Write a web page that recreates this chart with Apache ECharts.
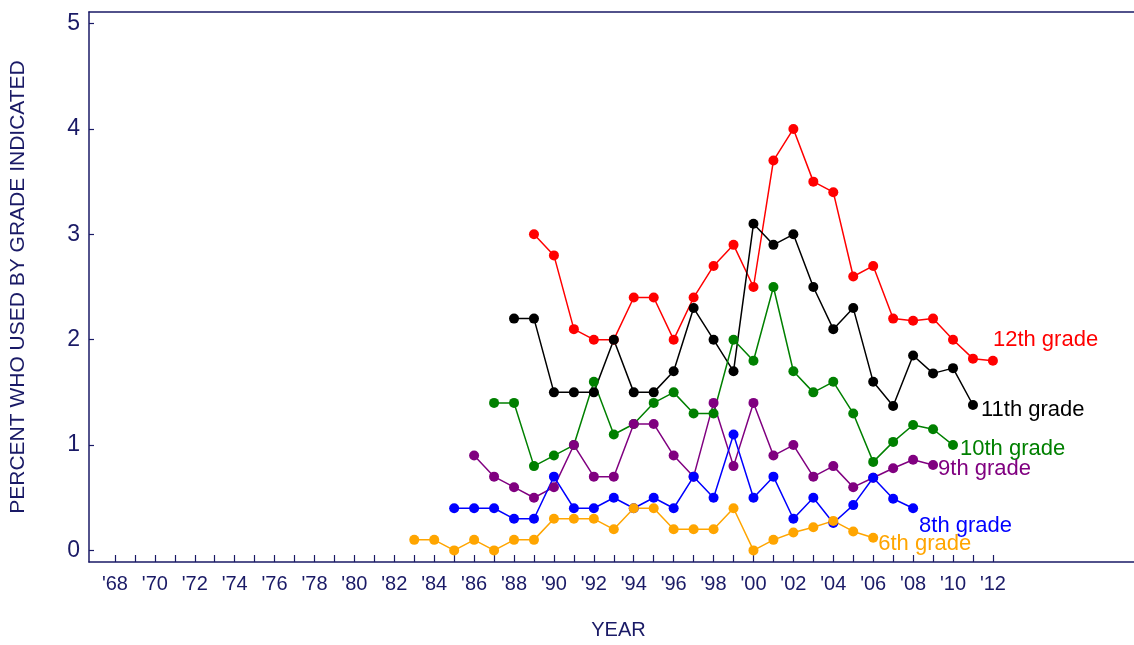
<!DOCTYPE html>
<html>
<head>
<meta charset="utf-8">
<script src="https://cdn.jsdelivr.net/npm/echarts@6/dist/echarts.min.js"></script>
<style>html,body{margin:0;padding:0;background:#fff}#c{width:1134px;height:645px}</style>
</head>
<body>
<div id="c"></div>
<script>
// ---- data ----
const years12 = [1989,1990,1991,1992,1993,1994,1995,1996,1997,1998,1999,2000,2001,2002,2003,2004,2005,2006,2007,2008,2009,2010,2011,2012];
const grade12 = [3.0,2.8,2.1,2.0,2.0,2.4,2.4,2.0,2.4,2.7,2.9,2.5,3.7,4.0,3.5,3.4,2.6,2.7,2.2,2.18,2.2,2.0,1.82,1.8];

const years11 = [1988,1989,1990,1991,1992,1993,1994,1995,1996,1997,1998,1999,2000,2001,2002,2003,2004,2005,2006,2007,2008,2009,2010,2011];
const grade11 = [2.2,2.2,1.5,1.5,1.5,2.0,1.5,1.5,1.7,2.3,2.0,1.7,3.1,2.9,3.0,2.5,2.1,2.3,1.6,1.37,1.85,1.68,1.73,1.38];

const years10 = [1987,1988,1989,1990,1991,1992,1993,1994,1995,1996,1997,1998,1999,2000,2001,2002,2003,2004,2005,2006,2007,2008,2009,2010];
const grade10 = [1.4,1.4,0.8,0.9,1.0,1.6,1.1,1.2,1.4,1.5,1.3,1.3,2.0,1.8,2.5,1.7,1.5,1.6,1.3,0.84,1.03,1.19,1.15,1.0];

const years9 = [1986,1987,1988,1989,1990,1991,1992,1993,1994,1995,1996,1997,1998,1999,2000,2001,2002,2003,2004,2005,2006,2007,2008,2009];
const grade9 = [0.9,0.7,0.6,0.5,0.6,1.0,0.7,0.7,1.2,1.2,0.9,0.7,1.4,0.8,1.4,0.9,1.0,0.7,0.8,0.6,0.69,0.78,0.86,0.81];

const years8 = [1985,1986,1987,1988,1989,1990,1991,1992,1993,1994,1995,1996,1997,1998,1999,2000,2001,2002,2003,2004,2005,2006,2007,2008];
const grade8 = [0.4,0.4,0.4,0.3,0.3,0.7,0.4,0.4,0.5,0.4,0.5,0.4,0.7,0.5,1.1,0.5,0.7,0.3,0.5,0.26,0.43,0.69,0.49,0.4];

const years6 = [1983,1984,1985,1986,1987,1988,1989,1990,1991,1992,1993,1994,1995,1996,1997,1998,1999,2000,2001,2002,2003,2004,2005,2006];
const grade6 = [0.1,0.1,0.0,0.1,0.0,0.1,0.1,0.3,0.3,0.3,0.2,0.4,0.4,0.2,0.2,0.2,0.4,0.0,0.1,0.17,0.22,0.28,0.18,0.12];

const xTickValues = [];
for (let y = 1968; y <= 2012; y++) xTickValues.push(y);
const xLabelValues = [1968,1970,1972,1974,1976,1978,1980,1982,1984,1986,1988,1990,1992,1994,1996,1998,2000,2002,2004,2006,2008,2010,2012];
const yTickValues = [0,1,2,3,4,5];

// ---- chart ----
const navy = '#1a1a66';
const FONT = '"Liberation Sans", Arial, sans-serif';

function mk(name, years, vals, color, offset) {
  return {
    type: 'line', name: name,
    data: years.map((y, i) => [y, vals[i]]),
    symbol: 'circle', symbolSize: 10,
    lineStyle: { color: color, width: 1.5 },
    itemStyle: { color: color },
    endLabel: {
      show: true, formatter: name, color: color,
      fontSize: 22, fontFamily: FONT, offset: offset, distance: 8
    },
    z: 3
  };
}

const chart = echarts.init(document.getElementById('c'), null, { renderer: 'canvas' });
chart.setOption({
  animation: false,
  backgroundColor: '#ffffff',
  grid: { left: 88, right: 0, top: 12, bottom: 80, containLabel: false },
  xAxis: [{
    type: 'value', min: 1966.7, max: 2019.07,
    name: 'YEAR', nameLocation: 'middle', nameGap: 58,
    nameTextStyle: { color: navy, fontSize: 20, fontFamily: FONT, padding: [0, 0, 0, 14] },
    axisLine: { show: true, onZero: false, lineStyle: { color: navy, width: 1.5 } },
    axisTick: { show: true, inside: true, length: 7, customValues: xTickValues, lineStyle: { color: navy, width: 1.2 } },
    axisLabel: {
      show: true, customValues: xLabelValues, color: navy, fontSize: 20, fontFamily: FONT, margin: 12,
      formatter: v => "'" + String(v).slice(2)
    },
    splitLine: { show: false }
  }, {
    type: 'value', position: 'top', min: 1966.7, max: 2019.07,
    axisLine: { show: true, onZero: false, lineStyle: { color: navy, width: 1.5 } },
    axisTick: { show: false }, axisLabel: { show: false }, splitLine: { show: false }
  }],
  yAxis: {
    type: 'value', min: -0.11, max: 5.11,
    name: 'PERCENT WHO USED BY GRADE INDICATED', nameLocation: 'middle', nameGap: 60, nameRotate: 90,
    nameTextStyle: { color: navy, fontSize: 21, fontFamily: FONT },
    axisLine: { show: true, onZero: false, lineStyle: { color: navy, width: 1.5 } },
    axisTick: { show: true, inside: true, length: 5, customValues: yTickValues, lineStyle: { color: navy, width: 1.2 } },
    axisLabel: { show: true, customValues: yTickValues, color: navy, fontSize: 23, fontFamily: FONT, margin: 9 },
    splitLine: { show: false }
  },
  series: [
    mk('12th grade', years12, grade12, '#ff0000', [-8, -21]),
    mk('11th grade', years11, grade11, '#000000', [0, 5]),
    mk('10th grade', years10, grade10, '#008000', [-1, 4]),
    mk('9th grade', years9, grade9, '#800080', [-3, 4]),
    mk('8th grade', years8, grade8, '#0000ff', [-2, 18]),
    mk('6th grade', years6, grade6, '#ffa500', [-3, 6])
  ]
});
</script>
</body>
</html>
